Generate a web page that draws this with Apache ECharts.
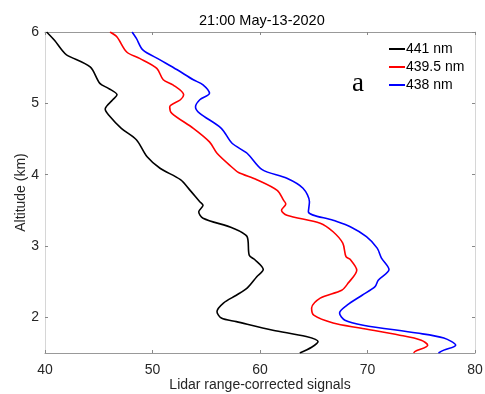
<!DOCTYPE html>
<html><head><meta charset="utf-8">
<script src="https://cdn.jsdelivr.net/npm/echarts@6/dist/echarts.min.js"></script>
<style>html,body{margin:0;padding:0;background:#fff}#c{width:485px;height:394px}</style>
</head><body><div id="c"></div>
<script>
const seriesNames = ['441 nm', '439.5 nm', '438 nm'];
const seriesColors = ['#000000', '#ff0000', '#0000ff'];
const xTicks = [40, 50, 60, 70, 80];
const yTicks = [2, 3, 4, 5, 6];

const alt441 = [6.0, 5.88, 5.75, 5.68, 5.51, 5.28, 5.21, 5.12, 5.05, 4.92, 4.84, 4.65, 4.49, 4.25, 4.09, 3.93, 3.78, 3.62, 3.57, 3.48, 3.39, 3.25, 3.13, 2.87, 2.81, 2.67, 2.57, 2.41, 2.31, 2.20, 2.08, 1.99, 1.94, 1.82, 1.73, 1.66, 1.58, 1.5];
const sig441 = [40.15, 40.9, 41.55, 42.0, 44.2, 45.1, 45.9, 46.7, 46.3, 45.6, 45.9, 47.1, 48.5, 49.5, 50.7, 52.6, 53.5, 54.4, 54.7, 54.3, 54.7, 57.5, 58.8, 59.0, 59.5, 60.3, 59.7, 58.8, 57.8, 56.6, 56.0, 56.4, 57.8, 61.2, 64.3, 65.4, 64.8, 63.7];

const alt4395 = [6.0, 5.93, 5.72, 5.63, 5.49, 5.33, 5.26, 5.12, 5.05, 4.95, 4.86, 4.65, 4.46, 4.30, 4.09, 4.03, 3.93, 3.78, 3.64, 3.59, 3.50, 3.43, 3.32, 3.20, 3.04, 2.85, 2.81, 2.66, 2.48, 2.38, 2.27, 2.13, 2.03, 1.92, 1.85, 1.75, 1.68, 1.61, 1.52, 1.5];
const sig4395 = [46.05, 46.7, 47.6, 48.8, 50.4, 51.0, 51.9, 52.9, 52.6, 51.6, 51.8, 53.8, 55.3, 56.0, 57.5, 58.0, 59.7, 61.6, 62.2, 62.4, 62.0, 62.5, 65.6, 66.8, 67.7, 68.0, 68.4, 69.0, 68.2, 67.6, 65.6, 64.8, 65.0, 66.8, 69.3, 73.0, 75.0, 75.6, 74.4, 74.3];

const alt438 = [6.0, 5.91, 5.75, 5.61, 5.47, 5.33, 5.26, 5.14, 5.05, 4.95, 4.86, 4.65, 4.44, 4.30, 4.07, 3.95, 3.81, 3.62, 3.48, 3.36, 3.27, 3.13, 2.97, 2.83, 2.67, 2.52, 2.43, 2.31, 2.17, 2.06, 1.96, 1.89, 1.78, 1.71, 1.61, 1.54, 1.5];
const sig438 = [48.1, 48.5, 49.1, 50.7, 52.3, 53.8, 54.7, 55.3, 54.4, 54.0, 54.4, 56.4, 57.4, 58.8, 60.2, 62.5, 64.0, 64.6, 64.5, 66.8, 68.4, 69.9, 70.9, 71.3, 72.0, 71.0, 70.7, 69.5, 68.1, 67.4, 67.9, 69.6, 74.6, 77.1, 78.2, 77.1, 76.6];

const sigs = [sig441, sig4395, sig438];
const alts = [alt441, alt4395, alt438];

const font = 'Liberation Sans, Arial, Helvetica, sans-serif';
const textGray = '#262626';

function xAxis(pos, show) {
  return {
    type: 'value', position: pos, min: 40, max: 80, interval: 10,
    name: show ? 'Lidar range-corrected signals' : '', nameLocation: 'middle', nameGap: 25,
    nameMoveOverlap: false,
    nameTextStyle: { fontFamily: font, fontSize: 14, color: textGray },
    axisLine: { show: true, lineStyle: { color: '#999999', width: 1 } },
    axisTick: { show: true, inside: true, length: 3, lineStyle: { color: '#888888' } },
    axisLabel: { show: show, fontFamily: font, fontSize: 14, color: textGray, margin: 10 },
    splitLine: { show: false }
  };
}
function yAxis(pos, show) {
  return {
    type: 'value', position: pos, min: 1.5, max: 6,
    name: show ? 'Altitude (km)' : '', nameLocation: 'middle', nameGap: 17,
    nameMoveOverlap: false,
    nameTextStyle: { fontFamily: font, fontSize: 14, color: textGray },
    axisLine: { show: true, lineStyle: { color: '#d6d6d6', width: 1 } },
    axisTick: { show: true, inside: true, length: 3, customValues: yTicks, lineStyle: { color: '#888888' } },
    axisLabel: { show: show, fontFamily: font, fontSize: 14, color: textGray, margin: 6, customValues: yTicks },
    splitLine: { show: false }
  };
}

const chart = echarts.init(document.getElementById('c'), null, { renderer: 'canvas' });
chart.setOption({
  animation: false,
  backgroundColor: '#ffffff',
  title: {
    text: '21:00 May-13-2020', left: 194, top: 8,
    textStyle: { fontFamily: font, fontSize: 14.5, fontWeight: 'normal', color: '#000' }
  },
  grid: { left: 45, right: 10, top: 32, bottom: 41, containLabel: false, outerBoundsMode: 'none' },
  xAxis: [xAxis('bottom', true), xAxis('top', false)],
  yAxis: [yAxis('left', true), yAxis('right', false)],
  legend: {
    orient: 'vertical', left: 384, top: 35, itemGap: 0,
    itemWidth: 16, itemHeight: 2, icon: 'rect',
    textStyle: { fontFamily: font, fontSize: 14, color: '#000', lineHeight: 18, padding: [0, 0, 0, -4] },
    data: seriesNames
  },
  graphic: [{
    type: 'text', left: 352, top: 70,
    style: { text: 'a', font: '27px "Liberation Serif", "Times New Roman", serif', fill: '#000' }
  }],
  series: seriesNames.map((n, i) => ({
    name: n, type: 'line', xAxisIndex: 0, yAxisIndex: 0,
    data: sigs[i].map((v, j) => [v, alts[i][j]]),
    showSymbol: false, symbol: 'none', smooth: 0.3,
    lineStyle: { color: seriesColors[i], width: 1.6 },
    itemStyle: { color: seriesColors[i] }
  }))
});
</script>
</body></html>
